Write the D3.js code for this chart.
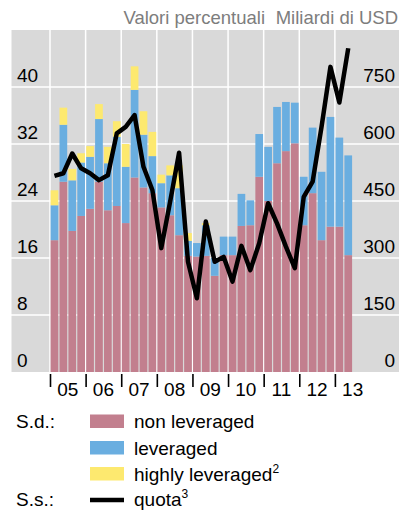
<!DOCTYPE html>
<html>
<head>
<meta charset="utf-8">
<script src="https://cdn.jsdelivr.net/npm/d3@7"></script>
<style>
  body { margin: 0; background: #fff; }
  text { font-family: "Liberation Sans", Arial, sans-serif; }
</style>
</head>
<body>
<div id="chart"></div>
<script>

// quarters from 2005 Q1 to 2013 Q2
var years = ["05", "06", "07", "08", "09", "10", "11", "12", "13"];

// S.d. (valori percentuali)
var nonLeveraged = [18.5, 26.7, 19.8, 21.9, 22.9, 26.7, 22.7, 23.3, 20.9, 27.3,
                    25.9, 25.1, 23.1, 22.0, 19.2, 16.3, 16.2, 16.3, 13.5, 16.4,
                    16.4, 20.5, 20.6, 27.4, 24.0, 29.3, 31.0, 32.1, 20.6, 25.1,
                    18.5, 20.4, 20.4, 16.4];
var leveraged = [4.9, 8.0, 7.1, 7.5, 7.3, 8.8, 6.6, 9.7, 7.9, 12.3,
                 7.4, 5.2, 3.4, 5.6, 6.6, 2.1, 1.9, 4.3, 2.5, 2.6,
                 2.6, 4.5, 3.5, 6.0, 7.6, 7.9, 6.9, 5.7, 6.8, 9.2,
                 9.6, 15.4, 12.5, 14.0];
var highlyLeveraged = [2.1, 2.4, 1.6, 1.3, 1.5, 2.1, 2.3, 2.2, 3.2, 3.3,
                       3.3, 3.4, 1.2, 1.4, 3.2, 1.1, 0, 0.3, 0, 0,
                       0, 0, 0, 0, 0, 0, 0, 0, 0, 0,
                       0, 0, 0, 0];

// S.s. (miliardi di USD)
var quota = [516, 523, 575, 536, 523, 505, 518, 628, 645, 676,
             540, 479, 326, 449, 577, 290, 194, 396, 290, 303,
             238, 332, 268, 339, 444, 391, 330, 273, 461, 501,
             645, 803, 709, 852];

var leftTicks = [0, 8, 16, 24, 32, 40];
var rightTicks = [0, 150, 300, 450, 600, 750];

var colors = {
  non: "#c27f8e",
  lev: "#6aaee0",
  high: "#fde96f",
  bg: "#d9d9d9"
};

var svgWidth = 401,
    svgHeight = 514;

var plotLeft = 11, plotRight = 399, plotTop = 30, plotBottom = 372;

var svg = d3.select("#chart").append("svg")
  .attr("width", svgWidth)
  .attr("height", svgHeight);

// scales
var x = d3.scaleLinear().domain([2005, 2014]).range([50, 370.5]);
var y = d3.scaleLinear().domain([0, 48]).range([plotBottom, plotTop]);
var y2 = d3.scaleLinear().domain([0, 900]).range([plotBottom, plotTop]);

var step = x(2005.25) - x(2005);

var table = nonLeveraged.map(function(d, i) {
  return {
    t: 2005 + i / 4,
    non: d,
    lev: leveraged[i],
    high: highlyLeveraged[i],
    quota: quota[i]
  };
});

var stack = d3.stack().keys(["non", "lev", "high"])(table);

// header
svg.append("text")
  .attr("x", 265).attr("y", 24)
  .attr("text-anchor", "end")
  .style("font-size", "18.5px")
  .style("fill", "#7d7d7d")
  .text("Valori percentuali");

svg.append("text")
  .attr("x", 398).attr("y", 24)
  .attr("text-anchor", "end")
  .style("font-size", "18.5px")
  .style("fill", "#7d7d7d")
  .text("Miliardi di USD");

// background + grid
svg.append("rect")
  .attr("x", plotLeft).attr("y", plotTop)
  .attr("width", plotRight - plotLeft)
  .attr("height", plotBottom - plotTop)
  .attr("fill", colors.bg);

svg.append("g")
  .selectAll("line")
  .data(leftTicks.slice(1))
  .enter().append("line")
  .attr("x1", plotLeft).attr("x2", plotRight)
  .attr("y1", function(d) { return y(d); })
  .attr("y2", function(d) { return y(d); })
  .attr("stroke", "#fff")
  .attr("stroke-width", 1.5);

svg.append("g")
  .selectAll("line")
  .data(d3.range(2005, 2014))
  .enter().append("line")
  .attr("x1", function(d) { return x(d); })
  .attr("x2", function(d) { return x(d); })
  .attr("y1", plotTop).attr("y2", plotBottom)
  .attr("stroke", "#fff")
  .attr("stroke-width", 1.5);

svg.append("line")
  .attr("x1", plotLeft).attr("x2", plotLeft)
  .attr("y1", plotTop).attr("y2", plotBottom)
  .attr("stroke", "#fff")
  .attr("stroke-width", 1);

// stacked bars
svg.append("g")
  .selectAll("g")
  .data(stack)
  .enter().append("g")
  .attr("fill", function(d) { return colors[d.key]; })
  .selectAll("rect")
  .data(function(d) { return d; })
  .enter().append("rect")
  .attr("x", function(d) { return x(d.data.t) + 0.6; })
  .attr("width", step - 1.2)
  .attr("y", function(d) { return y(d[1]); })
  .attr("height", function(d) { return Math.max(0, y(d[0]) - y(d[1])); });

// quota line
var line = d3.line()
  .x(function(d) { return x(d.t) + step / 2; })
  .y(function(d) { return y2(d.quota); });

svg.append("path")
  .datum(table)
  .attr("d", line)
  .attr("fill", "none")
  .attr("stroke", "#000")
  .attr("stroke-width", 4.5)
  .attr("stroke-linejoin", "round");

// axis labels
svg.append("g")
  .selectAll("text")
  .data(leftTicks)
  .enter().append("text")
  .attr("x", 17)
  .attr("y", function(d) { return y(d) - 5; })
  .style("font-size", "19px")
  .text(function(d) { return d; });

svg.append("g")
  .selectAll("text")
  .data(rightTicks)
  .enter().append("text")
  .attr("x", 395)
  .attr("y", function(d) { return y2(d) - 5; })
  .attr("text-anchor", "end")
  .style("font-size", "19px")
  .text(function(d) { return d; });

// year ticks and labels
var xTicks = d3.axisBottom(x)
  .tickValues(d3.range(2005, 2014))
  .tickSize(13)
  .tickFormat("");

svg.append("g")
  .attr("transform", "translate(0," + (plotBottom + 2) + ")")
  .call(xTicks)
  .call(function(g) { g.select(".domain").remove(); })
  .selectAll("line")
  .attr("stroke", "#000")
  .attr("stroke-width", 1.6);

svg.append("g")
  .selectAll("text")
  .data(years)
  .enter().append("text")
  .attr("x", function(d, i) { return x(2005 + i + 0.5); })
  .attr("y", 396)
  .attr("text-anchor", "middle")
  .style("font-size", "19px")
  .text(function(d) { return d; });

// legend
var legend = svg.append("g");

legend.append("text").attr("x", 16).attr("y", 428)
  .style("font-size", "19px").text("S.d.:");
legend.append("text").attr("x", 16).attr("y", 506)
  .style("font-size", "19px").text("S.s.:");

var legendItems = [
  { key: "non", label: "non leveraged", sup: "", y: 428 },
  { key: "lev", label: "leveraged", sup: "", y: 454.5 },
  { key: "high", label: "highly leveraged", sup: "2", y: 480.5 }
];

legendItems.forEach(function(d) {
  legend.append("rect")
    .attr("x", 90).attr("y", d.y - 13.5)
    .attr("width", 34).attr("height", 13.5)
    .attr("fill", colors[d.key]);
  var t = legend.append("text")
    .attr("x", 134).attr("y", d.y)
    .style("font-size", "19px")
    .text(d.label);
  if (d.sup) {
    t.append("tspan")
      .attr("dy", -8)
      .style("font-size", "12px")
      .text(d.sup);
  }
});

legend.append("line")
  .attr("x1", 90).attr("x2", 124)
  .attr("y1", 500).attr("y2", 500)
  .attr("stroke", "#000")
  .attr("stroke-width", 4.5);

legend.append("text")
  .attr("x", 134).attr("y", 506)
  .style("font-size", "19px")
  .text("quota")
  .append("tspan")
  .attr("dy", -8)
  .style("font-size", "12px")
  .text("3");

</script>
</body>
</html>
